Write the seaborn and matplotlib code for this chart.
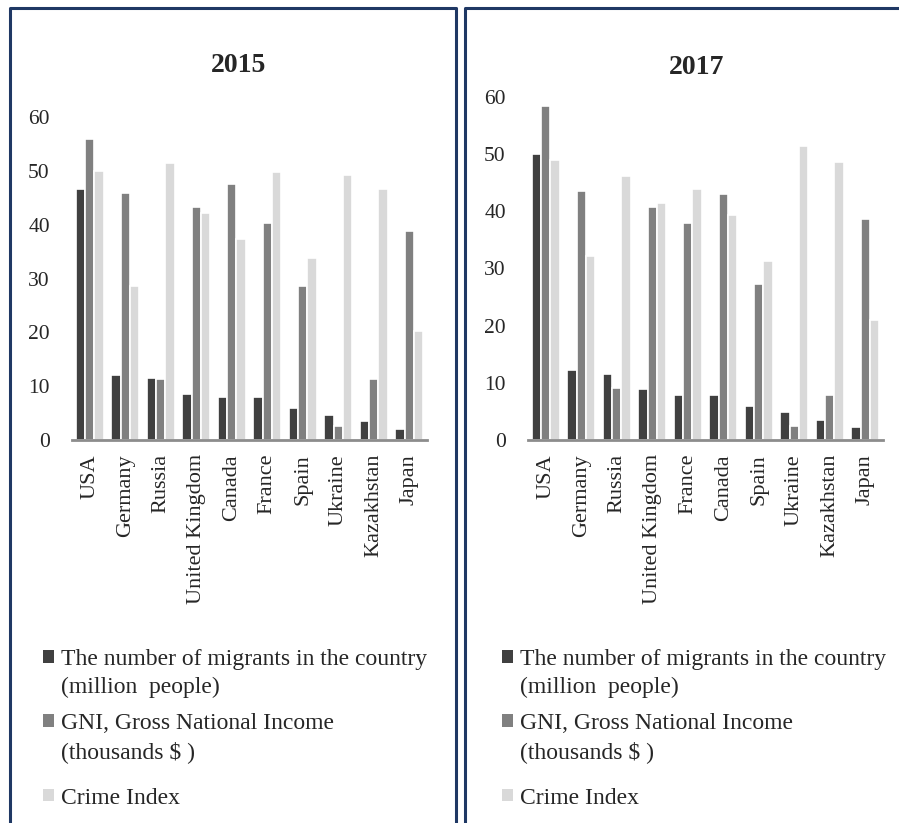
import pandas as pd
import seaborn as sns
import matplotlib.pyplot as plt
from matplotlib.lines import Line2D
from matplotlib.patches import Patch

# data
countries_2015 = ['USA', 'Germany', 'Russia', 'United Kingdom', 'Canada',
                  'France', 'Spain', 'Ukraine', 'Kazakhstan', 'Japan']
migrants_2015 = [46.6, 12.1, 11.6, 8.5, 7.9, 7.9, 5.9, 4.7, 3.5, 2.1]
gni_2015 = [56.0, 45.9, 11.4, 43.3, 47.6, 40.4, 28.6, 2.6, 11.4, 38.8]
crime_2015 = [50.0, 28.6, 51.4, 42.1, 37.3, 49.7, 33.8, 49.3, 46.6, 20.2]

countries_2017 = ['USA', 'Germany', 'Russia', 'United Kingdom', 'France',
                  'Canada', 'Spain', 'Ukraine', 'Kazakhstan', 'Japan']
migrants_2017 = [49.9, 12.3, 11.6, 8.9, 7.8, 7.8, 5.9, 4.9, 3.5, 2.2]
gni_2017 = [58.4, 43.6, 9.1, 40.7, 38.0, 43.0, 27.3, 2.4, 7.8, 38.7]
crime_2017 = [49.0, 32.2, 46.1, 41.4, 43.9, 39.4, 31.3, 51.4, 48.5, 21.0]

series_names = ['migrants', 'gni', 'crime']
legend_lines = [['The number of migrants in the country', '(million  people)'],
                ['GNI, Gross National Income', '(thousands $ )'],
                ['Crime Index']]
colors = ['#404040', '#808080', '#d9d9d9']
frame_color = '#1f3864'

W, H = 899, 823


def fx(x):
    return x / W


def fy(y):
    return 1 - y / H


def make_df(countries, *values):
    rows = []
    for name, vals in zip(series_names, values):
        for c, v in zip(countries, vals):
            rows.append({'country': c, 'series': name, 'value': v})
    return pd.DataFrame(rows)


sns.set_style('white')
plt.rcParams['font.family'] = ['Liberation Serif', 'DejaVu Serif']

fig = plt.figure(figsize=(W / 100, H / 100), dpi=100)

panels = [
    # title, df, axes box (px: left, top of y=60, width), title pos, legend x
    ('2015', make_df(countries_2015, migrants_2015, gni_2015, crime_2015),
     (72, 117, 355), (239, 65), 43),
    ('2017', make_df(countries_2017, migrants_2017, gni_2017, crime_2017),
     (528, 96.7, 355), (697, 68), 502),
]

for title, df, (left, top, width), (tx, ty), lx in panels:
    ax = fig.add_axes([fx(left), fy(440), width / W, (440 - top) / H])
    sns.barplot(data=df, x='country', y='value', hue='series', palette=colors,
                width=0.8, edgecolor='white', linewidth=1.2, legend=False, ax=ax)
    ax.set_ylim(0, 60)
    ax.set_yticks(range(0, 61, 10))
    ax.set_xlabel('')
    ax.set_ylabel('')
    for s in ['top', 'right', 'left']:
        ax.spines[s].set_visible(False)
    ax.spines['bottom'].set_color('#8c8c8c')
    ax.spines['bottom'].set_linewidth(2.0)
    ax.tick_params(axis='y', length=0, pad=16, labelsize=15.5)
    ax.tick_params(axis='x', length=0, pad=10, labelsize=16, labelrotation=90)
    fig.text(fx(tx), fy(ty), title, ha='center', va='center',
             fontsize=20, fontweight='bold')

    # legend: one small legend per series so the marker sits on the first line
    centers = [673.5, 738, 798]
    for color, lines, yc in zip(colors, legend_lines, centers):
        handles = [Patch(facecolor=color, edgecolor='none')]
        handles += [Patch(facecolor='none', edgecolor='none')] * (len(lines) - 1)
        fig.legend(handles=handles, labels=lines, loc='center left',
                   bbox_to_anchor=(fx(lx), fy(yc)), frameon=False,
                   borderpad=0, borderaxespad=0, handlelength=0.45,
                   handleheight=0.45, handletextpad=0.3, labelspacing=0.3,
                   fontsize=17)

# blue frames round each panel
lw = 2.2
fig.add_artist(Line2D([fx(9.5), fx(9.5), fx(456), fx(456)],
                      [0, fy(8), fy(8), 0], color=frame_color, lw=lw,
                      transform=fig.transFigure))
fig.add_artist(Line2D([fx(465), fx(465), 1],
                      [0, fy(8), fy(8)], color=frame_color, lw=lw,
                      transform=fig.transFigure))

plt.savefig('out.png', dpi=100)
